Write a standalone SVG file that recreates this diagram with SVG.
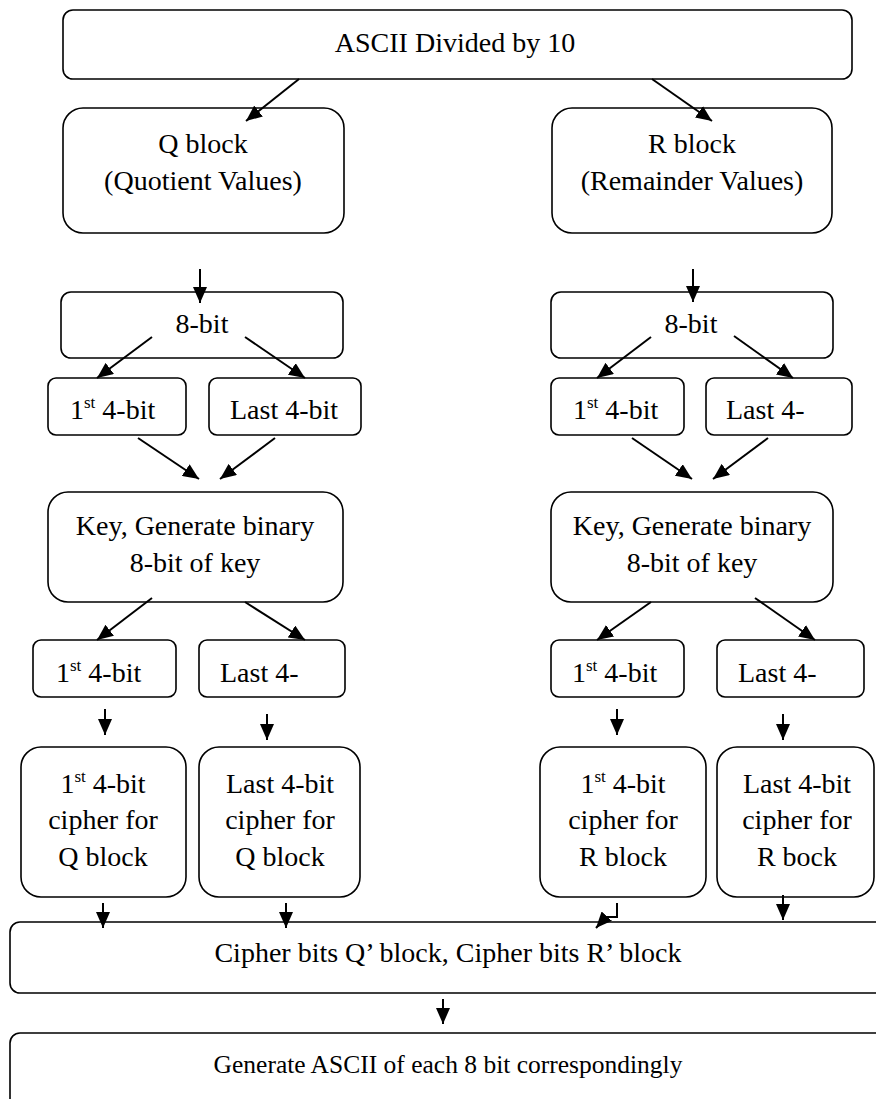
<svg xmlns="http://www.w3.org/2000/svg" width="876" height="1099" viewBox="0 0 876 1099">
<style>
.b{fill:#fff;stroke:#000;stroke-width:1.6}
.t{font-size:28px;fill:#000}
.c{text-anchor:middle}
.s{font-size:17px}
.e{fill:none;stroke:#000;stroke-width:2}
</style>
<defs>
<marker id="ah" markerUnits="userSpaceOnUse" markerWidth="16" markerHeight="14" refX="16" refY="7" orient="auto">
<path d="M0,0 L16,7 L0,14 z" fill="#000"/>
</marker>
</defs>
<rect width="876" height="1099" fill="#fff"/>
<g font-family="'Liberation Serif', 'Times New Roman', Times, serif">
<g id="top"><rect class="b" x="63" y="10" width="789" height="69" rx="10"/><text class="t c" x="455" y="52">ASCII Divided by 10</text></g>
<g id="qblock"><rect class="b" x="63" y="108" width="281" height="125" rx="20"/><text class="t c" x="203" y="153">Q block</text><text class="t c" x="203" y="190">(Quotient Values)</text></g>
<g id="rblock"><rect class="b" x="552" y="108" width="280" height="125" rx="20"/><text class="t c" x="692" y="153">R block</text><text class="t c" x="692" y="190">(Remainder Values)</text></g>
<g id="q8"><rect class="b" x="61" y="292" width="282" height="66" rx="10"/><text class="t c" x="202" y="333">8-bit</text></g>
<g id="r8"><rect class="b" x="551" y="292" width="282" height="66" rx="10"/><text class="t c" x="691" y="333">8-bit</text></g>
<g id="q1"><rect class="b" x="48" y="378" width="138" height="57" rx="8"/><text class="t" x="70" y="419">1<tspan class="s" dy="-11">st</tspan><tspan dy="11"> 4-bit</tspan></text></g>
<g id="q2"><rect class="b" x="209" y="378" width="152" height="57" rx="8"/><text class="t" x="230" y="419">Last 4-bit</text></g>
<g id="r1"><rect class="b" x="551" y="378" width="133" height="57" rx="8"/><text class="t" x="573" y="419">1<tspan class="s" dy="-11">st</tspan><tspan dy="11"> 4-bit</tspan></text></g>
<g id="r2"><rect class="b" x="706" y="378" width="146" height="57" rx="8"/><text class="t" x="726" y="419">Last 4-</text></g>
<g id="qkey"><rect class="b" x="48" y="492" width="295" height="110" rx="20"/><text class="t c" x="195" y="535">Key, Generate binary</text><text class="t c" x="195" y="572">8-bit of key</text></g>
<g id="rkey"><rect class="b" x="551" y="492" width="282" height="110" rx="20"/><text class="t c" x="692" y="535">Key, Generate binary</text><text class="t c" x="692" y="572">8-bit of key</text></g>
<g id="qk1"><rect class="b" x="33" y="640" width="143" height="57" rx="8"/><text class="t" x="56" y="682">1<tspan class="s" dy="-11">st</tspan><tspan dy="11"> 4-bit</tspan></text></g>
<g id="qk2"><rect class="b" x="199" y="640" width="146" height="57" rx="8"/><text class="t" x="220" y="682">Last 4-</text></g>
<g id="rk1"><rect class="b" x="551" y="640" width="133" height="57" rx="8"/><text class="t" x="572" y="682">1<tspan class="s" dy="-11">st</tspan><tspan dy="11"> 4-bit</tspan></text></g>
<g id="rk2"><rect class="b" x="717" y="640" width="147" height="57" rx="8"/><text class="t" x="738" y="682">Last 4-</text></g>
<g id="qc1"><rect class="b" x="21" y="747" width="165" height="150" rx="20"/><text class="t c" x="103" y="793">1<tspan class="s" dy="-11">st</tspan><tspan dy="11"> 4-bit</tspan></text><text class="t c" x="103" y="829">cipher for</text><text class="t c" x="103" y="866">Q block</text></g>
<g id="qc2"><rect class="b" x="199" y="747" width="161" height="150" rx="20"/><text class="t c" x="280" y="793">Last 4-bit</text><text class="t c" x="280" y="829">cipher for</text><text class="t c" x="280" y="866">Q block</text></g>
<g id="rc1"><rect class="b" x="540" y="747" width="166" height="150" rx="20"/><text class="t c" x="623" y="793">1<tspan class="s" dy="-11">st</tspan><tspan dy="11"> 4-bit</tspan></text><text class="t c" x="623" y="829">cipher for</text><text class="t c" x="623" y="866">R block</text></g>
<g id="rc2"><rect class="b" x="717" y="747" width="157" height="150" rx="20"/><text class="t c" x="797" y="793">Last 4-bit</text><text class="t c" x="797" y="829">cipher for</text><text class="t c" x="797" y="866">R bock</text></g>
<g id="cipher"><rect class="b" x="10" y="922" width="900" height="71" rx="10"/><text class="t c" x="448" y="962">Cipher bits Q’ block, Cipher bits R’ block</text></g>
<g id="ascii"><rect class="b" x="10" y="1033" width="900" height="90" rx="10"/><text class="t c" x="448" y="1073" style="font-size:25.5px">Generate ASCII of each 8 bit correspondingly</text></g>
</g>
<g id="connectors">
<path class="e" d="M299,79 L246,121" marker-end="url(#ah)"/>
<path class="e" d="M652,79 L712,121" marker-end="url(#ah)"/>
<path class="e" d="M200,269 L200,303" marker-end="url(#ah)"/>
<path class="e" d="M693,269 L693,302" marker-end="url(#ah)"/>
<path class="e" d="M152,337 L97,378" marker-end="url(#ah)"/>
<path class="e" d="M245,337 L305,378" marker-end="url(#ah)"/>
<path class="e" d="M651,337 L597,378" marker-end="url(#ah)"/>
<path class="e" d="M734,336 L793,378" marker-end="url(#ah)"/>
<path class="e" d="M138,438 L199,479" marker-end="url(#ah)"/>
<path class="e" d="M275,438 L220,479" marker-end="url(#ah)"/>
<path class="e" d="M632,438 L692,479" marker-end="url(#ah)"/>
<path class="e" d="M768,438 L713,479" marker-end="url(#ah)"/>
<path class="e" d="M152,598 L97,640" marker-end="url(#ah)"/>
<path class="e" d="M245,602 L305,640" marker-end="url(#ah)"/>
<path class="e" d="M651,602 L597,640" marker-end="url(#ah)"/>
<path class="e" d="M755,598 L815,640" marker-end="url(#ah)"/>
<path class="e" d="M105,709 L105,735" marker-end="url(#ah)"/>
<path class="e" d="M267,714 L267,740" marker-end="url(#ah)"/>
<path class="e" d="M617,709 L617,735" marker-end="url(#ah)"/>
<path class="e" d="M783,714 L783,740" marker-end="url(#ah)"/>
<path class="e" d="M103,903 L103,928" marker-end="url(#ah)"/>
<path class="e" d="M286,903 L286,928" marker-end="url(#ah)"/>
<path class="e" d="M617,903 L617,917 L606,917 L596,928" marker-end="url(#ah)"/>
<path class="e" d="M783,895 L783,920" marker-end="url(#ah)"/>
<path class="e" d="M443,999 L443,1024" marker-end="url(#ah)"/>
</g>
</svg>
